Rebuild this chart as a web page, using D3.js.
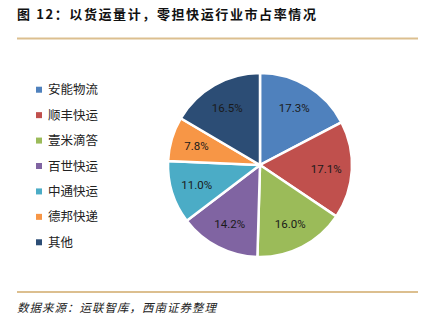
<!DOCTYPE html>
<html>
<head>
<meta charset="utf-8">
<script src="https://cdn.jsdelivr.net/npm/d3@7"></script>
<style>
  body { margin: 0; background: #fff; }
  svg { display: block; font-family: "Noto Sans CJK SC", "Noto Sans", sans-serif; }
</style>
</head>
<body>
<svg id="chart" width="423" height="319"></svg>
<script>
// data
var categories = ['安能物流', '顺丰快运', '壹米滴答', '百世快运', '中通快运', '德邦快递', '其他']
var shares = [17.3, 17.1, 16.0, 14.2, 11.0, 7.8, 16.5]
var colors = ['#4f81bd', '#c0504d', '#9bbb59', '#8064a2', '#4bacc6', '#f79646', '#2c4d75']

var svg = d3.select('#chart')

// title
svg.append('text')
    .attr('x', 17).attr('y', 19)
    .attr('font-size', 13).attr('font-weight', 'bold')
    .attr('letter-spacing', 1.6)
    .attr('fill', '#111')
    .text('图 12：以货运量计，零担快运行业市占率情况')

svg.append('line')
    .attr('x1', 17).attr('x2', 418).attr('y1', 38.5).attr('y2', 38.5)
    .attr('stroke', '#dcbf8f').attr('stroke-width', 2)

svg.append('line')
    .attr('x1', 17).attr('x2', 418).attr('y1', 292).attr('y2', 292)
    .attr('stroke', '#dcbf8f').attr('stroke-width', 2)

svg.append('text')
    .attr('x', 17).attr('y', 312)
    .attr('font-size', 11.5).attr('font-style', 'italic')
    .attr('letter-spacing', 1)
    .attr('fill', '#222')
    .text('数据来源：运联智库，西南证券整理')

// pie
var cx = 260, cy = 165, r = 92

var pie = d3.pie().sort(null).value(d => d)
var arc = d3.arc().innerRadius(0).outerRadius(r)
var labelArc = d3.arc().innerRadius(r * 0.72).outerRadius(r * 0.72)

var color = d3.scaleOrdinal().domain(categories).range(colors)

var g = svg.append('g').attr('transform', 'translate(' + cx + ',' + cy + ')')

var arcs = pie(shares)

g.selectAll('path')
    .data(arcs)
    .enter()
    .append('path')
    .attr('d', arc)
    .attr('fill', (d, i) => color(categories[i]))
    .attr('stroke', '#fff')
    .attr('stroke-width', 2.5)

g.selectAll('text.lbl')
    .data(arcs)
    .enter()
    .append('text')
    .attr('class', 'lbl')
    .attr('transform', d => 'translate(' + labelArc.centroid(d) + ')')
    .attr('text-anchor', 'middle')
    .attr('dy', '0.35em')
    .attr('font-size', 11.5)
    .attr('font-family', 'Roboto, "Noto Sans", sans-serif')
    .attr('fill', '#1a1a1a')
    .text(d => d.data.toFixed(1) + '%')

// legend
var legend = svg.append('g')
var y = d3.scaleBand().domain(categories).range([77, 255])

var rows = legend.selectAll('g')
    .data(categories)
    .enter()
    .append('g')
    .attr('transform', d => 'translate(0,' + (y(d) + y.bandwidth() / 2) + ')')

rows.append('rect')
    .attr('x', 36).attr('y', -3)
    .attr('width', 6).attr('height', 6)
    .attr('fill', d => color(d))

rows.append('text')
    .attr('x', 48)
    .attr('dy', '0.36em')
    .attr('font-size', 12.5)
    .attr('fill', '#222')
    .text(d => d)
</script>
</body>
</html>
